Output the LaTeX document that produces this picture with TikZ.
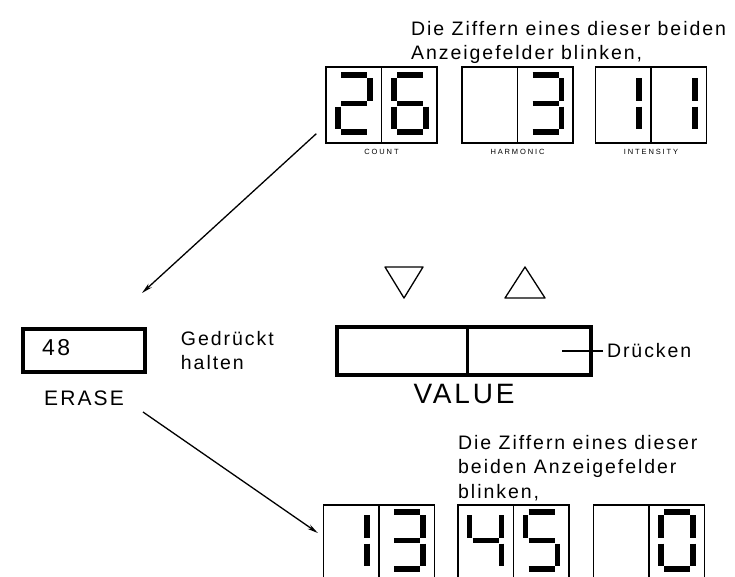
\documentclass[tikz,border=0pt]{standalone}
\usepackage{fontspec}
\setmainfont[LetterSpace=10]{Liberation Sans}
\usetikzlibrary{arrows.meta,positioning,calc}

\begin{document}
\begin{tikzpicture}[x=1pt,y=-1pt,
  disp/.style={draw,line width=1.3pt,minimum width=111pt,minimum height=76pt,inner sep=0pt},
  keybox/.style={draw,line width=3.5pt,inner sep=0pt},
  segline/.style={line width=5.5pt},
  seg a/.style={insert path={(-13,0)--(13,0)}},
  seg b/.style={insert path={(16,3)--(16,25.5)}},
  seg c/.style={insert path={(16,31.5)--(16,54)}},
  seg d/.style={insert path={(-13,57)--(13,57)}},
  seg e/.style={insert path={(-16,31.5)--(-16,54)}},
  seg f/.style={insert path={(-16,3)--(-16,25.5)}},
  seg g/.style={insert path={(-13,28.5)--(13,28.5)}},
  note/.style={align=left,inner sep=0pt,font=\fontsize{19.5}{24.5}\selectfont},
  tag/.style={inner sep=0pt,font=\fontsize{7.5}{9}\selectfont\addfontfeatures{LetterSpace=25}},
  arr/.style={-{Stealth[length=11pt,width=5pt]},line width=1.3pt}
]
  \useasboundingbox (0,0) rectangle (735,576);
  \clip (0,0) rectangle (735,576);
  % upper displays
  \node[note,anchor=north west] (noteTop) at (411,21) {Die Ziffern eines dieser beiden\\Anzeigefelder blinken,};
  \node[disp] (count) at (381.5,105) {};
  \node[disp] (harm) at (517.5,105) {};
  \node[disp] (inten) at (651,105) {};
  \node[tag,below=5pt of count] (countTag) {COUNT};
  \node[tag,below=5pt of harm] (harmTag) {HARMONIC};
  \node[tag,below=5pt of inten] (intenTag) {INTENSITY};
  % keys
  \node[keybox,minimum width=122pt,minimum height=43pt] (erase) at (84,350.5) {};
  \node[anchor=west,inner sep=0pt,font=\fontsize{23}{26}\selectfont] (eraseVal) at (42,348) {48};
  \node[inner sep=0pt,below=17pt of erase,font=\fontsize{21}{24}\selectfont] (eraseLbl) {ERASE};
  \node[note,right=34pt of erase] (hold) {Gedrückt\\halten};
  \node[keybox,minimum width=254pt,minimum height=48pt] (value) at (464,351) {};
  \node[inner sep=0pt,below=7pt of value,font=\fontsize{28}{30}\selectfont] (valueLbl) {VALUE};
  \draw[line width=3pt] ([xshift=3pt]value.north) -- ([xshift=3pt]value.south);
  \node[note,anchor=west,outer sep=4pt] (press) at (603,351) {Drücken};
  \coordinate (pressEnd) at (562,351);
  \draw[line width=1.2pt] (press.west) -- (pressEnd);
  % up / down symbols
  \draw[line width=1.3pt,line join=round] (385,267) -- (423,267) -- (404,298) -- cycle;
  \draw[line width=1.3pt,line join=round] (505,298) -- (545,298) -- (525,267) -- cycle;
  % lower displays
  \node[note,anchor=north west] (noteLow) at (458,435) {Die Ziffern eines dieser\\beiden Anzeigefelder\\blinken,};
  \node[disp] (low1) at (379,543) {};
  \node[disp] (low2) at (513.5,543) {};
  \node[disp] (low3) at (649,543) {};
  \foreach \d in {count,harm,inten,low1,low2,low3}
    \draw[line width=1.3pt] (\d.north) -- (\d.south);
  % digits
  \foreach \cx/\cy/\segs in {354/75/{a,b,g,e,d}, 410/75/{a,f,g,e,d,c}, 545.5/75/{a,b,g,c,d},
      623/75/{b,c}, 679/75/{b,c}, 351/512/{b,c}, 407/512/{a,b,g,c,d},
      485.5/512/{f,g,b,c}, 541.5/512/{a,f,g,c,d}, 677/512/{a,b,c,d,e,f}}
    \foreach \s in \segs
      \draw[segline,shift={(\cx,\cy)},seg \s];
  % arrows
  \coordinate (eraseIn) at (142,293);
  \coordinate (eraseOut) at (143,412);
  \draw[arr] ([shift={(-9,-10)}]count.south west) -- (eraseIn);
  \draw[arr] (eraseOut) -- ([shift={(-5,-10)}]low1.west);
\end{tikzpicture}
\end{document}
